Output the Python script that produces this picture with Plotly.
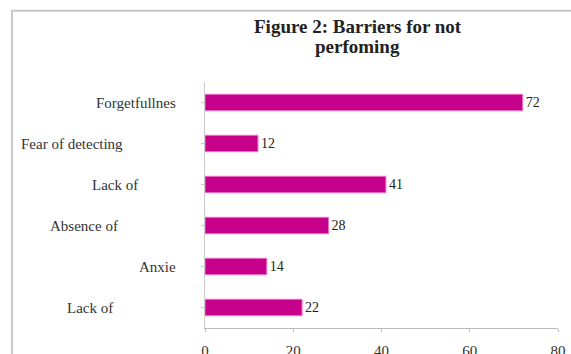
import plotly.graph_objects as go

categories = ["Forgetfullnes", "Fear of detecting", "Lack of", "Absence of", "Anxie", "Lack of"]
values = [72, 12, 41, 28, 14, 22]
x_ticks = [0, 20, 40, 60, 80]
title_lines = ["Figure 2: Barriers for not", "perfoming"]

# horizontal position (paper coords) of each category label's right edge
label_x = [-0.077, -0.227, -0.185, -0.242, -0.077, -0.254]
title_y = [1.2276, 1.1423]

ypos = list(range(len(categories)))
serif = "Liberation Serif, Times New Roman, serif"

fig = go.Figure()
fig.add_trace(go.Bar(
    x=values, y=ypos, orientation="h",
    marker=dict(color="#C6008A", line=dict(color="#F070C8", width=1)),
    text=[str(v) for v in values], textposition="outside",
    textfont=dict(family=serif, size=14, color="#222222"),
    cliponaxis=False, width=0.4,
))

for i, (c, lx) in enumerate(zip(categories, label_x)):
    fig.add_annotation(x=lx, y=i, xref="paper", yref="y", text=c, showarrow=False,
                       xanchor="right", yanchor="middle",
                       font=dict(family=serif, size=15, color="#333333"))

for t, ty in zip(title_lines, title_y):
    fig.add_annotation(x=0.433, y=ty, xref="paper", yref="paper", text=f"<b>{t}</b>",
                       showarrow=False, xanchor="center", yanchor="middle",
                       font=dict(family=serif, size=19, color="#222222"))

fig.add_shape(type="rect", xref="paper", yref="paper",
              x0=-0.547, x1=1.2, y0=-0.3, y1=1.29,
              line=dict(color="#C8C8C8", width=2), layer="below")

fig.update_layout(
    width=571, height=354,
    margin=dict(l=205, r=13, t=82, b=26, autoexpand=False),
    paper_bgcolor="white", plot_bgcolor="white",
    showlegend=False,
    xaxis=dict(range=[0, 80], tickvals=x_ticks, showgrid=False, zeroline=False,
               automargin=False,
               showline=True, linecolor="#BBBBBB", linewidth=1,
               ticks="outside", ticklen=3, tickcolor="#BBBBBB", ticklabelstandoff=6,
               tickfont=dict(family=serif, size=15, color="#333333")),
    yaxis=dict(range=[5.5, -0.5], tickvals=ypos, showticklabels=False, showgrid=False,
               automargin=False, tickson="boundaries",
               zeroline=False, showline=True, linecolor="#CCCCCC", linewidth=1,
               ticks="outside", ticklen=3, tickcolor="#CCCCCC"),
)

fig.write_html("out.html", config={"displayModeBar": False},
               post_script="document.body.style.margin='0';")
